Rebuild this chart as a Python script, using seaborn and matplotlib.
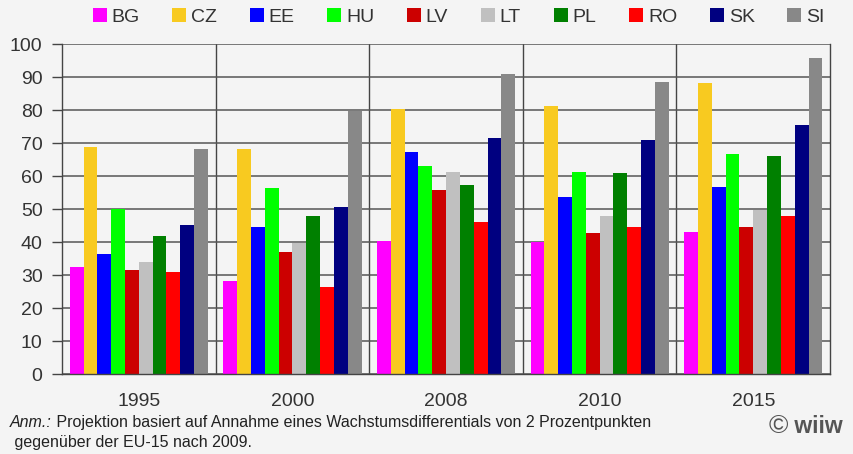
import pandas as pd
import seaborn as sns
import matplotlib.pyplot as plt

# data
years = ['1995', '2000', '2008', '2010', '2015']
countries = ['BG', 'CZ', 'EE', 'HU', 'LV', 'LT', 'PL', 'RO', 'SK', 'SI']
colors = ['#ff00ff', '#f8ca20', '#0000ff', '#00ff00', '#cc0000',
          '#c0c0c0', '#008000', '#ff0000', '#000080', '#888888']

bg = [32.3, 28.1, 40.2, 40.0, 43.1]
cz = [68.7, 68.1, 80.2, 81.1, 88.3]
ee = [36.3, 44.7, 67.2, 53.5, 56.8]
hu = [49.9, 56.3, 62.9, 61.1, 66.8]
lv = [31.4, 36.9, 55.7, 42.6, 44.6]
lt = [33.8, 39.8, 61.1, 47.8, 49.8]
pl = [41.7, 47.8, 57.2, 60.8, 66.2]
ro = [30.8, 26.3, 46.0, 44.4, 48.0]
sk = [45.1, 50.5, 71.4, 70.8, 75.6]
si = [68.1, 79.7, 90.8, 88.4, 95.9]

values = [bg, cz, ee, hu, lv, lt, pl, ro, sk, si]
rows = []
for c, vals in zip(countries, values):
    for y, v in zip(years, vals):
        rows.append({'Jahr': y, 'Land': c, 'Wert': v})
df = pd.DataFrame(rows)

sns.set_style('white')
plt.rcParams['font.family'] = ['Liberation Sans', 'DejaVu Sans']

fig = plt.figure(figsize=(8.54, 4.54), dpi=100, facecolor='#f4f4f4')
ax = fig.add_axes([0.0726, 0.1762, 0.8994, 0.7268])
ax.set_facecolor('#f4f4f4')

sns.barplot(data=df, x='Jahr', y='Wert', hue='Land', order=years,
            hue_order=countries, palette=colors, width=0.9,
            saturation=1, linewidth=0, ax=ax, legend=True)

ax.set_ylim(0, 100)
ax.set_xlim(-0.5, 4.5)
ax.set_yticks(range(0, 101, 10))
ax.yaxis.grid(True, color='#555555', linewidth=1.1)
ax.set_axisbelow(True)
for x in [0.5, 1.5, 2.5, 3.5]:
    ax.axvline(x, color='#444444', linewidth=1.0, zorder=0.5)
ax.set_xticks([0.5, 1.5, 2.5, 3.5], minor=True)
ax.tick_params(axis='x', which='major', length=0, labelsize=14,
               labelcolor='#333333', pad=14)
ax.tick_params(axis='x', which='minor', length=6, width=1, color='#444444')
ax.tick_params(axis='y', length=7, width=1, color='#444444', labelsize=14,
               labelcolor='#333333', pad=7, left=True)
ax.set_xlabel('')
ax.set_ylabel('')
for s in ax.spines.values():
    s.set_color('#444444')
    s.set_linewidth(1.0)
ax.spines['top'].set_visible(False)

handles, labels = ax.get_legend_handles_labels()
leg = ax.legend(handles, labels, ncol=10, loc='center', frameon=False,
                bbox_to_anchor=(0.537, 0.963), bbox_transform=fig.transFigure,
                fontsize=14, handlelength=0.72, handleheight=0.72,
                handletextpad=0.25, columnspacing=1.68)
for t in leg.get_texts():
    t.set_color('#333333')

# footnote
anm = fig.text(0.012, 0.06, 'Anm.:', fontsize=11.5, style='italic',
               va='baseline', ha='left', color='#222222')
ax.annotate(' Projektion basiert auf Annahme eines Wachstumsdifferentials von 2 Prozentpunkten',
            xy=(1, 0), xycoords=anm, va='bottom', ha='left',
            fontsize=11.5, color='#222222', annotation_clip=False)
fig.text(0.012, 0.016, ' gegenüber der EU-15 nach 2009.', fontsize=11.5,
         va='baseline', ha='left', color='#222222')

logo = fig.text(0.9, 0.046, '©', fontsize=19, color='#555555',
                va='baseline', ha='left')
ax.annotate(' wiiw', xy=(1, 0), xycoords=logo, va='bottom', ha='left',
            fontsize=16.5, fontweight='bold', color='#555555',
            annotation_clip=False)

fig.savefig('out.png', dpi=100, facecolor=fig.get_facecolor())
